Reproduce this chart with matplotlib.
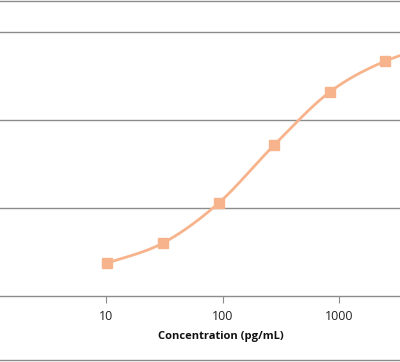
import numpy as np
import matplotlib
matplotlib.use("Agg")
import matplotlib.pyplot as plt
from matplotlib.lines import Line2D

# standard curve data (3-fold dilutions), last point lies past the cropped edge
conc = [10.3, 30.9, 92.6, 278, 833, 2500, 7500]
od = [0.188, 0.301, 0.528, 0.858, 1.159, 1.335, 1.43]
xticks = [10, 100, 1000]
xtick_labels = ["10", "100", "1000"]
gridvals = [0.5, 1.0, 1.5]

line_color = "#F7B48C"
grid_color = "#8C8C8C"


def smooth(xs, ys, n=30):
    # catmull-rom style smoothing like excel's smoothed line
    xs = np.asarray(xs, float)
    ys = np.asarray(ys, float)
    px = np.concatenate([[xs[0]], xs, [xs[-1]]])
    py = np.concatenate([[ys[0]], ys, [ys[-1]]])
    outx, outy = [], []
    for i in range(1, len(px) - 2):
        p0 = np.array([px[i - 1], py[i - 1]])
        p1 = np.array([px[i], py[i]])
        p2 = np.array([px[i + 1], py[i + 1]])
        p3 = np.array([px[i + 2], py[i + 2]])
        c1 = p1 + (p2 - p0) / 6
        c2 = p2 - (p3 - p1) / 6
        t = np.linspace(0, 1, n)[:, None]
        b = (1 - t) ** 3 * p1 + 3 * (1 - t) ** 2 * t * c1 + 3 * (1 - t) * t ** 2 * c2 + t ** 3 * p2
        outx.extend(b[:, 0])
        outy.extend(b[:, 1])
    return np.array(outx), np.array(outy)


fig = plt.figure(figsize=(4.0, 3.62), dpi=100)
H = 362.0
ax = fig.add_axes([0, (H - 296) / H, 1, 295 / H])
ax.set_xscale("log")
ax.set_xlim(10 ** (1 - 106 / 116.5), 10 ** (1 + 294 / 116.5))
ax.set_ylim(0, 295 / 88 * 0.5)

for g in gridvals:
    ax.axhline(g, color=grid_color, lw=1.0, zorder=1)

lx, ly = smooth(np.log10(conc), od)
ax.plot(10 ** lx, ly, color=line_color, lw=2.0, zorder=3, solid_capstyle="round")
ax.plot(conc, od, ls="none", marker="s", ms=7.5, color=line_color, mec=line_color, zorder=4)

for s in ["left", "right"]:
    ax.spines[s].set_visible(False)
ax.spines["bottom"].set_color(grid_color)
ax.spines["top"].set_color(grid_color)
ax.spines["bottom"].set_linewidth(1.0)
ax.spines["top"].set_linewidth(1.0)

ax.set_yticks([])
ax.set_xticks(xticks)
ax.set_xticklabels(xtick_labels)
ax.xaxis.set_minor_locator(matplotlib.ticker.NullLocator())
ax.tick_params(axis="x", length=5, color=grid_color, labelsize=9, pad=5,
               labelcolor="#222222")
for t in ax.get_xticklabels():
    t.set_fontfamily("Open Sans")

# plot area is wider than the crop, so the title sits right of centre
fig.text(221 / 400, 1 - 336 / H, "Concentration (pg/mL)", fontsize=8, fontweight="bold",
         fontfamily="Open Sans", color="#111111", ha="center", va="center")

# outer chart frame bottom
fig.add_artist(Line2D([0, 1], [1 - 360 / H, 1 - 360 / H], color=grid_color, lw=1.0))

fig.savefig("out.png", dpi=100)
